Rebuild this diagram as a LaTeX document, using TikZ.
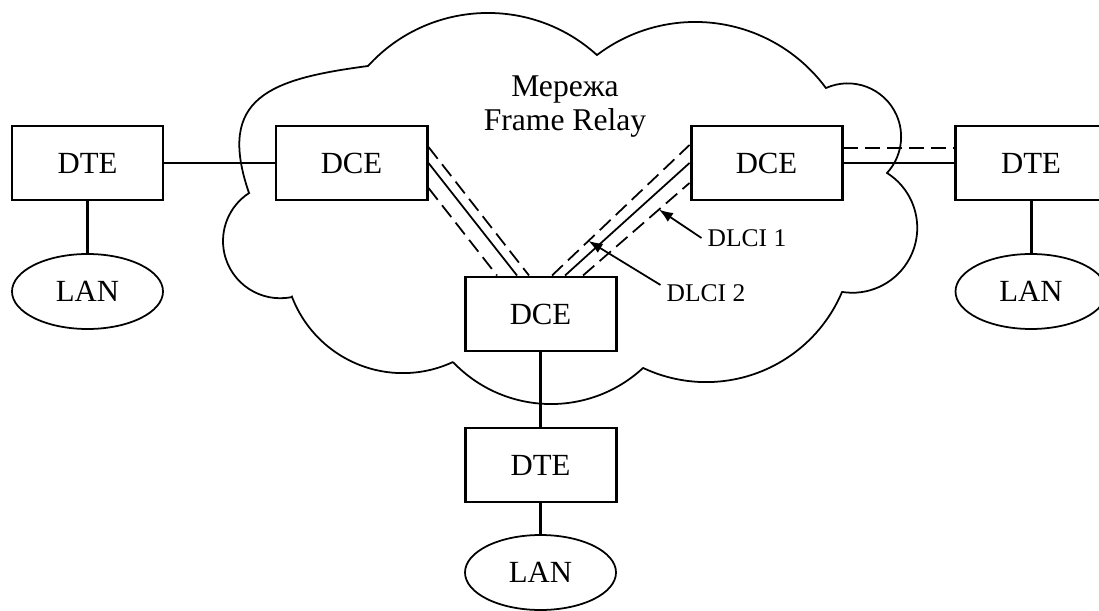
\documentclass[tikz,border=0pt]{standalone}
\usepackage{fontspec}
\setmainfont{Liberation Serif}
\usetikzlibrary{arrows.meta, positioning, shapes.geometric}
\tikzset{
  devbox/.style={draw, line width=1.7pt, fill=white, minimum width=3.02cm,
                 minimum height=1.48cm, inner sep=0pt, font=\fontsize{17.5}{21}\selectfont},
  lanbox/.style={draw, ellipse, line width=1pt, fill=white, minimum width=3.02cm,
                 minimum height=1.5cm, inner sep=0pt, font=\fontsize{17.5}{21}\selectfont},
  netcloud/.style={line width=1pt, line join=miter},
  thickln/.style={line width=1.7pt},
  thinln/.style={line width=1pt},
  vcln/.style={line width=1pt, dash pattern=on 8.5pt off 4pt},
  lbl/.style={font=\fontsize{14.5}{17}\selectfont},
  callout/.style={-{Latex[length=8pt,width=6pt]}, line width=1pt},
}
\begin{document}
\begin{tikzpicture}
  \clip (0,0) rectangle (21.98,-12.22);
  % cloud
  \draw[netcloud] (7.36,-1.32) arc[start angle=137.7, end angle=47.8, radius=3.244]
    -- (11.94,-1.10) arc[start angle=127.2, end angle=36.4, radius=3.248]
    -- (16.52,-1.76) arc[start angle=114.0, end angle=-42.6, radius=1.068]
    -- (17.74,-3.46) arc[start angle=57.7, end angle=-99.1, radius=1.298]
    -- (16.84,-5.84) arc[start angle=-22.9, end angle=-115.3, radius=2.95]
    -- (12.86,-7.36) arc[start angle=-47.2, end angle=-136.4, radius=2.708]
    -- (9.06,-7.24) arc[start angle=-65.0, end angle=-159.0, radius=2.374]
    -- (5.84,-5.94) arc[start angle=-78.1, end angle=-237.0, radius=1.144]
    -- (4.98,-3.86) .. controls (4.32,-1.95) and (5.40,-1.58) .. (7.36,-1.32) -- cycle;
  \node[font=\fontsize{18}{19.4}\selectfont, align=center] (net) at (11.3,-2.14)
    {Мережа\\Frame Relay};

  % devices
  \node[devbox] (dteL) at (1.75,-3.26) {DTE};
  \node[devbox] (dceL) at (7.03,-3.26) {DCE};
  \node[devbox] (dceR) at (15.33,-3.26) {DCE};
  \node[devbox] (dteR) at (20.62,-3.26) {DTE};
  \node[devbox] (dceB) at (10.81,-6.28) {DCE};
  \node[devbox] (dteB) at (10.81,-9.30) {DTE};
  \node[lanbox] (lanL) at (1.75,-5.83) {LAN};
  \node[lanbox] (lanR) at (20.62,-5.83) {LAN};
  \node[lanbox] (lanB) at (10.81,-11.45) {LAN};

  % access links
  \draw[thickln] (dteL) -- (dceL);
  \draw[thickln] (dceR) -- (dteR);
  \draw[vcln] ([yshift=0.3cm]dceR.east) -- ([yshift=0.3cm]dteR.west);
  \draw[thickln] (dteL) -- (lanL);
  \draw[thickln] (dteR) -- (lanR);
  \draw[thickln] (dceB) -- (dteB);
  \draw[thickln] (dteB) -- (lanB);

  % trunks and virtual circuits
  \draw[thinln] (dceL.east) -- ([xshift=-0.47cm]dceB.north);
  \draw[vcln] ([yshift=0.32cm]dceL.east) -- ([xshift=-0.23cm]dceB.north);
  \draw[vcln] ([yshift=-0.5cm]dceL.east) -- ([xshift=-0.87cm]dceB.north);
  \draw[thinln] ([xshift=0.49cm]dceB.north) -- (dceR.west);
  \draw[vcln] ([xshift=0.23cm]dceB.north) -- coordinate[pos=0.265] (tip2)
    ([yshift=0.36cm]dceR.west);
  \draw[vcln] ([xshift=0.85cm]dceB.north) -- coordinate[pos=0.713] (tip1)
    ([yshift=-0.4cm]dceR.west);

  % DLCI labels
  \node[lbl, anchor=west] (dlci1) at (14.03,-4.76) {DLCI 1};
  \node[lbl, anchor=west] (dlci2) at (13.21,-5.86) {DLCI 2};
  \draw[callout] (dlci1.west) -- (tip1);
  \draw[callout] (dlci2.170) -- (tip2);
\end{tikzpicture}
\end{document}
